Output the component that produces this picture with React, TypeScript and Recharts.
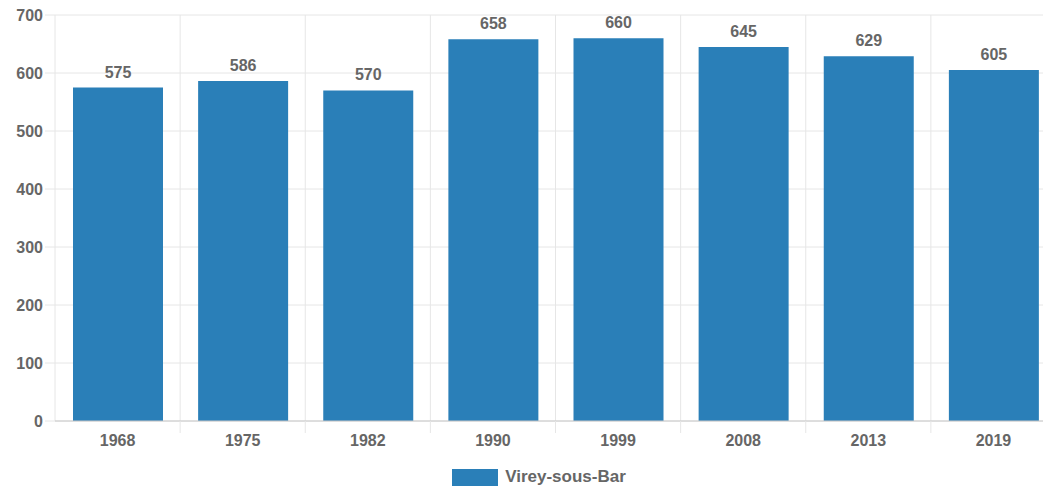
import React from 'react';
import {
    BarChart,
    Bar,
    XAxis,
    YAxis,
    CartesianGrid,
    Legend,
    LabelList,
} from 'recharts';

const years = ['1968', '1975', '1982', '1990', '1999', '2008', '2013', '2019'];
const population = [575, 586, 570, 658, 660, 645, 629, 605];
const yTicks = [0, 100, 200, 300, 400, 500, 600, 700];
const seriesName = 'Virey-sous-Bar';

const data = years.map((year, i) => ({ year, value: population[i] }));

const W = 1070;
const H = 487;
const PLOT_LEFT = 55;
const PLOT_RIGHT = 14;
const BAND = (W - PLOT_LEFT - PLOT_RIGHT) / years.length;
const FONT = '"Liberation Sans", Arial, Helvetica, sans-serif';
const TEXT = '#666666';
const BLUE = '#2a7fb8';

// x tick: label + short boundary tick between categories
const XTick = (props: any) => {
    const { x, y, payload, index } = props;
    const axisY = y - 8;
    return (
        <g>
            {index < years.length - 1 && (
                <line
                    x1={x + BAND / 2}
                    x2={x + BAND / 2}
                    y1={axisY}
                    y2={axisY + 12}
                    stroke="#e6e6e6"
                />
            )}
            <text
                x={x}
                y={axisY + 25}
                textAnchor="middle"
                fill={TEXT}
                fontSize={16}
                fontWeight="bold"
                fontFamily={FONT}
            >
                {payload.value}
            </text>
        </g>
    );
};

const LegendContent = () => (
    <div
        style={{
            display: 'flex',
            justifyContent: 'center',
            alignItems: 'center',
            paddingTop: 16,
            paddingLeft: 22,
            fontFamily: FONT,
        }}
    >
        <span
            style={{
                display: 'inline-block',
                width: 46,
                height: 17,
                background: BLUE,
                marginRight: 7,
            }}
        />
        <span style={{ color: TEXT, fontSize: 17, fontWeight: 'bold' }}>
            {seriesName}
        </span>
    </div>
);

export default function App() {
    return (
        <div
            style={{
                position: 'absolute',
                left: 0,
                top: 0,
                width: 1043,
                height: H,
                overflow: 'hidden',
                background: '#fff',
            }}
        >
            <BarChart
                width={W}
                height={H}
                data={data}
                margin={{ top: 15, right: PLOT_RIGHT, bottom: 0, left: 0 }}
                barSize={90}
            >
                <CartesianGrid
                    stroke="#e6e6e6"
                    verticalCoordinatesGenerator={({ offset }: any) =>
                        years.map((_, i) => offset.left + (i + 1) * (offset.width / years.length)).concat([offset.left])
                    }
                />
                <XAxis
                    dataKey="year"
                    height={30}
                    tickLine={false}
                    axisLine={{ stroke: '#c8c8c8' }}
                    tick={<XTick />}
                    interval={0}
                />
                <YAxis
                    width={PLOT_LEFT}
                    domain={[0, 700]}
                    ticks={yTicks}
                    axisLine={false}
                    tickSize={10}
                    tickMargin={2}
                    tickLine={{ stroke: '#e6e6e6' }}
                    tick={{ fill: TEXT, fontSize: 16, fontWeight: 'bold', fontFamily: FONT }}
                />
                <Legend verticalAlign="bottom" height={36} content={<LegendContent />} />
                <Bar dataKey="value" name={seriesName} fill={BLUE} isAnimationActive={false}>
                    <LabelList
                        dataKey="value"
                        position="top"
                        offset={10}
                        fill={TEXT}
                        fontSize={16}
                        fontWeight="bold"
                        fontFamily={FONT}
                    />
                </Bar>
            </BarChart>
        </div>
    );
}
